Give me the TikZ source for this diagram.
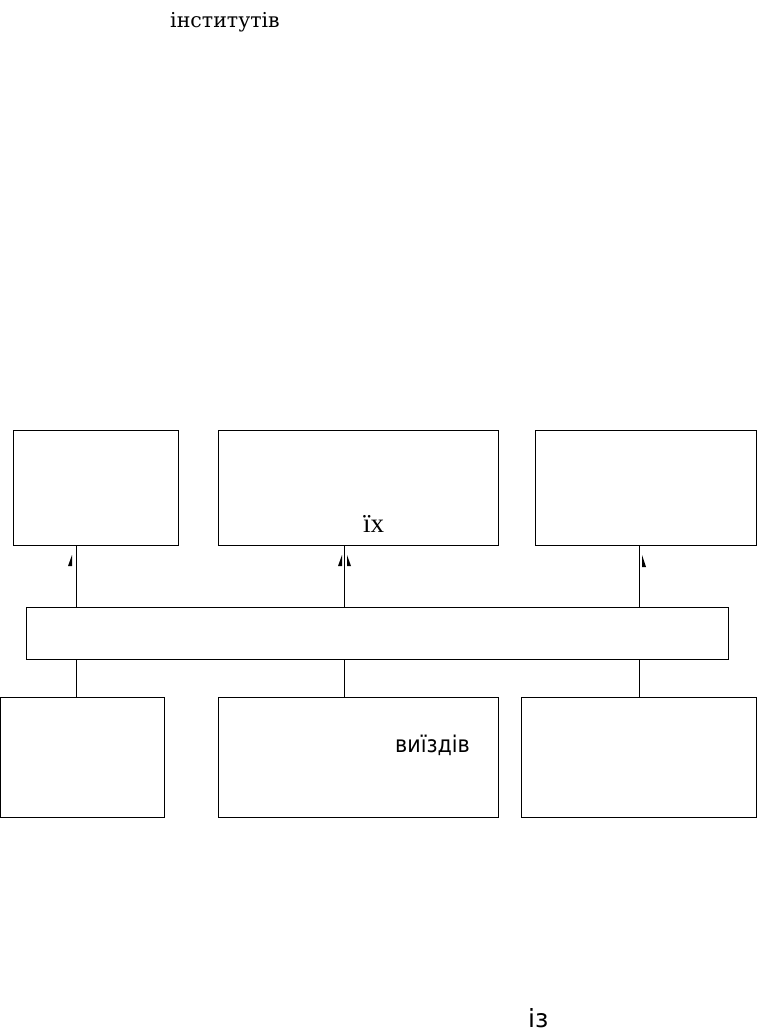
\documentclass[tikz,border=0pt]{standalone}
\usepackage{fontspec}
\setmainfont{Liberation Serif}
\newfontfamily\slabfont{DejaVu Serif}
\newfontfamily\condfont{DejaVu Sans Condensed}
\newfontfamily\plainfont{DejaVu Sans}
\begin{document}
\begin{tikzpicture}[
        x=1pt, y=-1pt,
        block/.style = {draw, line width=1pt, inner sep=0pt, anchor=north west},
        word/.style = {inner sep=0pt, anchor=base west},
        link/.style = {line width=1pt}
    ]
        \useasboundingbox (0,0) rectangle (757,1031);
        \node[word, font=\slabfont\fontsize{20.5}{24}\selectfont] (inst) at (170,27) {інститутів};
        \node[block, minimum width=165pt, minimum height=115pt] (goalA) at (13,430) {};
        \node[block, minimum width=280pt, minimum height=115pt] (goalB) at (218,430) {};
        \node[block, minimum width=221pt, minimum height=115pt] (goalC) at (535,430) {};
        \node[word, font=\fontsize{27}{30}\selectfont] (ikh) at (363,532) {їх};
        \node[block, minimum width=702pt, minimum height=52pt] (bus) at (26,607) {};
        \node[block, minimum width=164pt, minimum height=120pt] (srcA) at (0,697) {};
        \node[block, minimum width=280pt, minimum height=120pt] (srcB) at (218,697) {};
        \node[block, minimum width=235pt, minimum height=120pt] (srcC) at (521,697) {};
        \node[word, font=\condfont\fontsize{23}{26}\selectfont] (vyizd) at (395,752) {виїздів};
        \node[word, font=\plainfont\fontsize{25}{28}\selectfont] (iz) at (528,1027) {із};
        \coordinate (colA) at (76,0);
        \coordinate (colB) at (344.5,0);
        \coordinate (colC) at (639,0);
        \draw[link] (bus.north -| colA) -- (goalA.south -| colA);
        \draw[link] (bus.north -| colB) -- (goalB.south -| colB);
        \draw[link] (bus.north -| colC) -- (goalC.south -| colC);
        \draw[link] (bus.south -| colA) -- (srcA.north -| colA);
        \draw[link] (bus.south -| colB) -- (srcB.north -| colB);
        \draw[link] (bus.south -| colC) -- (srcC.north -| colC);
        \fill (72,555) -- (72,566) -- (68,566) -- cycle;
        \fill (342,555) -- (342,566) -- (338,566) -- cycle;
        \fill (347,555) -- (347,566) -- (351,566) -- cycle;
        \fill (642,555) -- (642,567) -- (646,567) -- cycle;
    \end{tikzpicture}
\end{document}
